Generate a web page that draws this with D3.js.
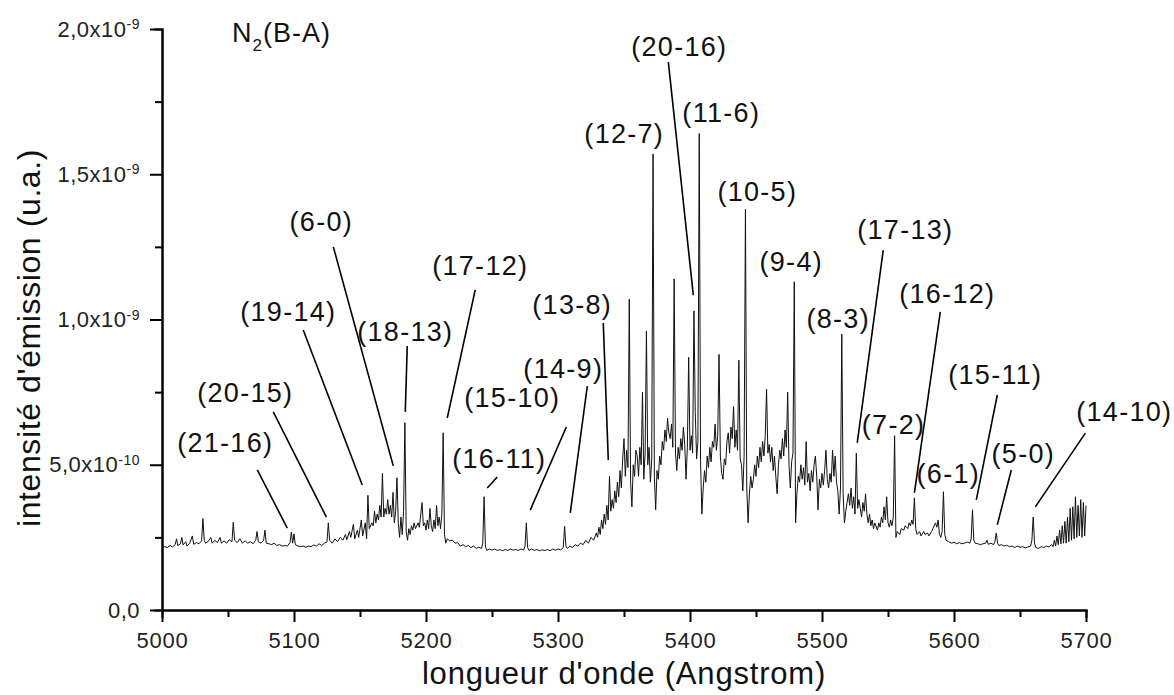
<!DOCTYPE html>
<html>
<head>
<meta charset="utf-8">
<script src="https://cdn.jsdelivr.net/npm/d3@7"></script>
<style>
  body { margin: 0; background: #fff; }
  svg { display: block; font-family: "Liberation Sans", Arial, sans-serif; }
</style>
</head>
<body>
<div id="chart"></div>
<script>
// wavelength (Angstrom), intensity in units of 1e-10 (u.a.)
const spectrum = [
  [5000,2.12],[5002,2.18],[5004,2.15],[5006,2.22],[5008,2.17],[5010,2.25],[5011,2.45],[5012,2.22],[5014,2.28],[5015,2.5],[5016,2.24],
  [5018,2.35],[5019,2.2],[5021,2.3],[5023,2.55],[5024,2.26],[5026,2.32],[5028,2.28],[5030,2.38],[5031,3.15],[5032,2.4],[5033,2.3],
  [5035,2.36],[5037,2.5],[5038,2.3],[5040,2.4],[5042,2.32],[5044,2.5],[5045,2.3],[5047,2.38],[5049,2.3],[5051,2.42],[5053,2.35],
  [5054,3.02],[5055,2.4],[5057,2.32],[5059,2.45],[5061,2.3],[5063,2.38],[5065,2.3],[5067,2.35],[5069,2.28],[5071,2.4],[5072,2.7],
  [5073,2.35],[5075,2.3],[5077,2.4],[5078,2.75],[5079,2.3],[5081,2.28],[5083,2.25],[5085,2.3],[5087,2.22],[5089,2.25],[5091,2.2],
  [5093,2.22],[5095,2.2],[5097,2.32],[5098,2.68],[5099,2.3],[5100,2.62],[5101,2.25],[5103,2.2],[5105,2.18],[5107,2.2],[5109,2.16],
  [5111,2.2],[5113,2.18],[5115,2.24],[5117,2.2],[5119,2.28],[5121,2.22],[5123,2.3],[5125,2.35],[5126,3.0],[5127,2.4],[5129,2.3],
  [5131,2.45],[5133,2.35],[5135,2.5],[5137,2.4],[5139,2.6],[5140,2.42],[5142,2.7],[5143,2.5],[5145,2.95],[5146,2.45],[5148,2.75],
  [5149,2.5],[5151,3.1],[5152,2.55],[5154,3.0],[5155,2.45],[5156,3.95],[5157,2.8],[5159,3.0],[5160,2.9],[5161,3.4],[5162,3.0],
  [5163,3.3],[5164,3.1],[5165,3.6],[5166,3.2],[5167,4.7],[5168,3.2],[5169,3.5],[5170,3.3],[5171,3.8],[5172,3.3],[5173,3.6],
  [5174,3.2],[5175,4.05],[5176,3.0],[5177,3.4],[5178,4.55],[5179,3.0],[5180,2.5],[5181,3.2],[5182,2.6],[5183,3.4],[5184,6.45],
  [5185,2.7],[5186,2.4],[5187,2.8],[5188,2.6],[5189,2.9],[5190,2.75],[5191,3.0],[5192,2.8],[5194,3.0],[5195,2.85],[5197,3.7],
  [5198,2.9],[5199,3.0],[5200,2.75],[5201,3.1],[5202,2.8],[5203,3.5],[5204,2.9],[5205,2.7],[5206,3.1],[5207,2.8],[5208,3.6],
  [5209,2.9],[5210,3.2],[5211,2.8],[5212,3.3],[5213,6.1],[5214,2.6],[5215,2.3],[5216,2.45],[5218,2.38],[5220,2.4],[5222,2.3],
  [5224,2.32],[5226,2.2],[5228,2.25],[5230,2.18],[5232,2.22],[5234,2.15],[5236,2.2],[5238,2.12],[5240,2.16],[5242,2.12],[5243,2.3],
  [5244,3.9],[5245,2.2],[5246,2.05],[5248,2.1],[5250,2.06],[5252,2.1],[5254,2.05],[5256,2.08],[5258,2.04],[5260,2.08],[5262,2.05],
  [5264,2.1],[5266,2.06],[5268,2.08],[5270,2.05],[5272,2.1],[5274,2.07],[5275,2.2],[5276,3.0],[5277,2.15],[5278,2.05],[5280,2.1],
  [5282,2.05],[5284,2.08],[5286,2.04],[5288,2.07],[5290,2.05],[5292,2.08],[5294,2.04],[5296,2.1],[5298,2.06],[5300,2.1],[5302,2.07],
  [5304,2.15],[5305,2.88],[5306,2.2],[5307,2.12],[5309,2.2],[5311,2.15],[5313,2.25],[5315,2.2],[5317,2.3],[5319,2.25],[5321,2.4],
  [5323,2.3],[5325,2.5],[5327,2.4],[5329,2.65],[5330,2.5],[5331,2.85],[5332,2.6],[5333,3.1],[5334,2.8],[5335,3.3],[5336,2.95],
  [5337,3.6],[5338,3.1],[5339,4.6],[5340,3.4],[5341,3.8],[5342,3.5],[5343,4.1],[5344,3.7],[5345,4.4],[5346,3.9],[5347,4.8],
  [5348,4.2],[5349,5.2],[5350,5.9],[5351,4.6],[5352,5.5],[5353,4.9],[5354,10.7],[5355,4.4],[5356,3.55],[5357,5.0],[5358,4.6],
  [5359,5.5],[5360,5.3],[5361,4.6],[5362,5.6],[5363,5.0],[5364,7.5],[5365,4.5],[5366,5.4],[5367,9.6],[5368,5.0],[5369,5.6],
  [5370,4.4],[5371,5.2],[5372,15.7],[5373,4.6],[5374,3.45],[5375,4.8],[5376,4.5],[5377,5.3],[5378,5.0],[5379,5.8],[5380,5.5],
  [5381,6.2],[5382,5.8],[5383,6.6],[5384,6.1],[5385,5.9],[5386,6.4],[5387,5.6],[5388,11.4],[5389,5.4],[5390,4.8],[5391,5.6],
  [5392,5.2],[5393,5.9],[5394,5.5],[5395,6.3],[5396,5.7],[5397,4.5],[5398,5.6],[5399,8.7],[5400,5.5],[5401,6.0],[5402,5.4],
  [5403,10.3],[5404,6.8],[5405,5.2],[5406,5.8],[5407,16.4],[5408,5.1],[5409,3.3],[5410,4.2],[5411,4.8],[5412,4.4],[5413,5.3],
  [5414,4.9],[5415,5.6],[5416,5.1],[5417,5.8],[5418,5.6],[5419,6.4],[5420,5.5],[5421,6.0],[5422,8.8],[5423,5.3],[5424,4.7],
  [5425,4.5],[5426,5.2],[5427,5.0],[5428,5.8],[5429,6.1],[5430,5.4],[5431,6.3],[5432,5.9],[5433,7.0],[5434,5.6],[5435,6.2],
  [5436,5.5],[5437,8.6],[5438,5.2],[5439,5.0],[5440,4.1],[5441,5.3],[5442,13.8],[5443,4.2],[5444,3.0],[5445,4.0],[5446,4.6],
  [5447,4.2],[5448,4.5],[5449,5.0],[5450,4.6],[5451,5.3],[5452,4.9],[5453,5.6],[5454,5.1],[5455,5.8],[5456,5.3],[5457,6.0],
  [5458,7.6],[5459,5.4],[5460,5.7],[5461,5.1],[5462,5.6],[5463,4.8],[5464,5.3],[5465,4.6],[5466,4.0],[5467,5.0],[5468,5.5],
  [5469,5.2],[5470,5.9],[5471,5.3],[5472,6.2],[5473,5.6],[5474,7.5],[5475,5.0],[5476,4.2],[5477,5.1],[5478,5.4],[5479,11.3],
  [5480,3.0],[5481,4.0],[5482,4.6],[5483,4.4],[5484,5.0],[5485,4.5],[5486,4.9],[5487,4.3],[5488,5.8],[5489,4.4],[5490,4.7],
  [5491,4.1],[5492,4.8],[5493,4.4],[5494,5.0],[5495,5.3],[5496,4.6],[5497,3.45],[5498,4.5],[5499,4.2],[5500,4.7],[5501,4.3],
  [5502,4.8],[5503,5.5],[5504,4.5],[5505,4.2],[5506,4.7],[5507,4.4],[5508,5.5],[5509,4.6],[5510,5.3],[5511,4.4],[5512,4.1],
  [5513,3.3],[5514,4.2],[5515,9.5],[5516,4.0],[5517,3.0],[5518,3.4],[5519,3.7],[5520,4.0],[5521,3.6],[5522,4.2],[5523,3.5],
  [5524,3.9],[5525,3.3],[5526,5.4],[5527,3.5],[5528,3.8],[5529,3.5],[5530,3.2],[5531,3.7],[5532,3.4],[5533,4.0],[5534,3.3],
  [5535,3.0],[5536,3.3],[5537,2.9],[5538,3.1],[5539,2.8],[5540,3.0],[5542,2.75],[5543,3.0],[5544,2.85],[5545,3.2],[5546,3.0],
  [5547,3.55],[5548,3.1],[5549,3.9],[5550,3.0],[5551,2.85],[5552,3.1],[5553,2.9],[5554,3.2],[5555,6.0],[5556,2.5],[5557,2.7],
  [5559,2.6],[5560,2.8],[5562,2.75],[5563,2.9],[5565,2.8],[5566,3.0],[5567,2.9],[5568,3.1],[5569,2.95],[5570,3.86],[5571,2.8],
  [5572,2.6],[5574,2.7],[5575,2.55],[5577,2.7],[5578,2.6],[5580,2.65],[5581,2.55],[5583,2.7],[5584,2.8],[5586,3.0],[5587,2.85],
  [5588,3.1],[5589,2.6],[5590,2.5],[5591,2.7],[5592,4.07],[5593,2.6],[5594,2.4],[5596,2.35],[5598,2.3],[5600,2.33],[5602,2.28],
  [5604,2.32],[5606,2.28],[5608,2.3],[5610,2.34],[5612,2.3],[5613,2.45],[5614,3.45],[5615,2.4],[5616,2.3],[5618,2.28],[5620,2.25],
  [5622,2.28],[5624,2.3],[5625,2.4],[5626,2.26],[5628,2.3],[5630,2.25],[5631,2.35],[5632,2.65],[5633,2.3],[5634,2.22],[5636,2.25],
  [5638,2.2],[5640,2.23],[5642,2.18],[5644,2.2],[5646,2.15],[5648,2.2],[5650,2.16],[5652,2.18],[5654,2.14],[5656,2.17],[5658,2.2],
  [5659,2.4],[5660,3.2],[5661,2.3],[5662,2.15],[5664,2.12],[5666,2.18],[5668,2.15],[5670,2.2],[5672,2.17],[5674,2.25],[5675,2.18],
  [5676,2.4],[5677,2.2],[5678,2.55],[5679,2.25],[5680,2.75],[5681,2.28],[5682,2.9],[5683,2.3],[5684,3.05],[5685,2.3],[5686,3.2],
  [5687,2.35],[5688,3.5],[5689,2.4],[5690,3.55],[5691,2.45],[5692,3.9],[5693,2.5],[5694,3.6],[5695,2.55],[5696,3.8],[5697,2.5],
  [5698,3.7],[5699,2.55],[5700,3.6]
];

const xTickValues = [5000, 5100, 5200, 5300, 5400, 5500, 5600, 5700];
const xMinorTicks = [5050, 5150, 5250, 5350, 5450, 5550, 5650];
const yTickValues = [0, 5, 10, 15, 20];
const yMinorTicks = [2.5, 7.5, 12.5, 17.5];
const yTickMantissa = ["0,0", "5,0x10", "1,0x10", "1,5x10", "2,0x10"];
const yTickExponent = ["", "-10", "-9", "-9", "-9"];

// band labels: text, label centre, leader line start/end (data units)
const bandLabels = [
  { text: "(21-16)", at: [5047.9, 5.75], from: [5072.2, 4.82], to: [5094.9, 2.82] },
  { text: "(20-15)", at: [5063.1, 7.50], from: [5084.3, 6.82], to: [5124.5, 3.20] },
  { text: "(19-14)", at: [5095.7, 10.29], from: [5107.0, 9.64], to: [5151.7, 4.30] },
  { text: "(6-0)", at: [5120.7, 13.36], from: [5129.8, 12.50], to: [5175.2, 4.96] },
  { text: "(18-13)", at: [5184.3, 9.60], from: [5185.8, 9.09], to: [5184.3, 6.82] },
  { text: "(17-12)", at: [5241.1, 11.84], from: [5237.3, 11.02], to: [5216.1, 6.61] },
  { text: "(16-11)", at: [5255.5, 5.23], from: [5254.0, 4.58], to: [5246.4, 4.20] },
  { text: "(15-10)", at: [5265.4, 7.30], from: [5306.3, 6.30], to: [5279.0, 3.44] },
  { text: "(14-9)", at: [5304.0, 8.30], from: [5322.2, 7.71], to: [5309.3, 3.34] },
  { text: "(13-8)", at: [5310.8, 10.50], from: [5334.3, 9.88], to: [5338.1, 5.16] },
  { text: "(12-7)", at: [5350.2, 16.39] },
  { text: "(20-16)", at: [5391.9, 19.38], from: [5383.6, 18.86], to: [5402.5, 10.84] },
  { text: "(11-6)", at: [5423.7, 17.11] },
  { text: "(10-5)", at: [5451.0, 14.42] },
  { text: "(9-4)", at: [5476.7, 11.98] },
  { text: "(8-3)", at: [5512.3, 10.02] },
  { text: "(17-13)", at: [5563.1, 13.08], from: [5546.4, 12.39], to: [5526.7, 5.75] },
  { text: "(16-12)", at: [5594.9, 10.91], from: [5589.6, 10.26], to: [5570.0, 4.03] },
  { text: "(7-2)", at: [5554.2, 6.40] },
  { text: "(6-1)", at: [5595.7, 4.68] },
  { text: "(15-11)", at: [5631.3, 8.09], from: [5632.8, 7.40], to: [5616.9, 3.79] },
  { text: "(5-0)", at: [5652.5, 5.40], from: [5643.4, 4.82], to: [5632.8, 2.93] },
  { text: "(14-10)", at: [5729.0, 6.82], from: [5699.5, 6.09], to: [5661.6, 3.55] }
];

const width = 1174;
const height = 695;
const margin = { top: 29, right: 88, bottom: 85, left: 162 };

const svg = d3.select('#chart')
  .append('svg')
  .attr('width', width)
  .attr('height', height);

const x = d3.scaleLinear()
  .domain([5000, 5700])
  .range([margin.left, width - margin.right]);

const y = d3.scaleLinear()
  .domain([0, 20])
  .range([height - margin.bottom, margin.top]);

// spectrum line
svg.append('path')
  .datum(spectrum)
  .attr('fill', 'none')
  .attr('stroke', '#111')
  .attr('stroke-width', 1)
  .attr('d', d3.line().x(d => x(d[0])).y(d => y(d[1])));

// axes (major + minor ticks, outward)
const xAxisG = svg.append('g')
  .attr('transform', `translate(0,${height - margin.bottom})`);
xAxisG.append('g')
  .call(d3.axisBottom(x).tickValues(xMinorTicks).tickSize(7).tickFormat(''));
xAxisG.append('g')
  .call(d3.axisBottom(x).tickValues(xTickValues).tickSize(12).tickSizeOuter(0).tickPadding(10).tickFormat(d3.format('d')));

const yAxisG = svg.append('g')
  .attr('transform', `translate(${margin.left},0)`);
yAxisG.append('g')
  .call(d3.axisLeft(y).tickValues(yMinorTicks).tickSize(7).tickFormat(''));
yAxisG.append('g')
  .call(d3.axisLeft(y).tickValues(yTickValues).tickSize(12).tickSizeOuter(0).tickFormat(''));

svg.selectAll('.domain, .tick line')
  .attr('stroke', '#000')
  .attr('stroke-width', 2);
svg.selectAll('.domain').attr('stroke-linecap', 'square');

xAxisG.selectAll('.tick text')
  .attr('font-size', 22)
  .attr('letter-spacing', 0.8)
  .attr('fill', '#222')
  .attr('font-family', '"Liberation Sans", Arial, sans-serif');

// y tick labels with superscript exponents
const yLabels = svg.append('g')
  .selectAll('text')
  .data(yTickValues)
  .enter()
  .append('text')
  .attr('x', margin.left - 22)
  .attr('y', d => y(d))
  .attr('dy', '0.35em')
  .attr('text-anchor', 'end')
  .attr('font-size', 22)
  .attr('letter-spacing', 0.5)
  .attr('fill', '#222');

yLabels.append('tspan')
  .text((d, i) => yTickMantissa[i]);
yLabels.append('tspan')
  .attr('dy', '-0.55em')
  .attr('font-size', 14)
  .text((d, i) => yTickExponent[i]);

// axis titles
svg.append('text')
  .attr('x', (margin.left + width - margin.right) / 2)
  .attr('y', 684)
  .attr('text-anchor', 'middle')
  .attr('font-size', 31)
  .attr('letter-spacing', 0.8)
  .attr('fill', '#111')
  .text("longueur d'onde (Angstrom)");

svg.append('text')
  .attr('transform', `translate(40,338) rotate(-90)`)
  .attr('text-anchor', 'middle')
  .attr('font-size', 32)
  .attr('letter-spacing', 0.6)
  .attr('fill', '#111')
  .text("intensité d'émission (u.a.)");

// N2(B-A) title
const title = svg.append('text')
  .attr('x', 232)
  .attr('y', 42)
  .attr('font-size', 27)
  .attr('letter-spacing', 1)
  .attr('fill', '#111');
title.append('tspan').text('N');
title.append('tspan').attr('font-size', 17).attr('dy', 9).text('2');
title.append('tspan').attr('dy', -9).text('(B-A)');

// band label leader lines
svg.append('g')
  .selectAll('line')
  .data(bandLabels.filter(d => d.from))
  .enter()
  .append('line')
  .attr('x1', d => x(d.from[0]))
  .attr('y1', d => y(d.from[1]))
  .attr('x2', d => x(d.to[0]))
  .attr('y2', d => y(d.to[1]))
  .attr('stroke', '#000')
  .attr('stroke-width', 1.6);

// band labels
svg.append('g')
  .selectAll('text')
  .data(bandLabels)
  .enter()
  .append('text')
  .attr('x', d => x(d.at[0]))
  .attr('y', d => y(d.at[1]))
  .attr('dy', '0.35em')
  .attr('text-anchor', 'middle')
  .attr('font-size', 27)
  .attr('letter-spacing', 1.3)
  .attr('fill', '#111')
  .text(d => d.text);
</script>
</body>
</html>
